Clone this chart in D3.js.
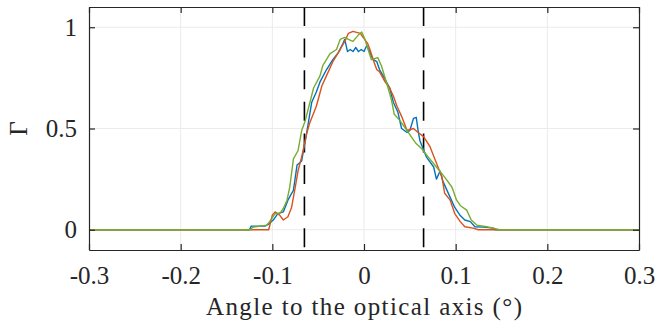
<!DOCTYPE html>
<html>
<head>
<meta charset="utf-8">
<script src="https://cdn.jsdelivr.net/npm/d3@7"></script>
<style>
  body { margin: 0; background: #fff; }
  svg text { font-family: "Liberation Serif", "DejaVu Serif", serif; fill: #262626; }
</style>
</head>
<body>
<div id="chart"></div>
<script>
// ---------------------------------------------------------------------------
// Data

const xTicks = [-0.3, -0.2, -0.1, 0, 0.1, 0.2, 0.3];
const yTicks = [0, 0.5, 1];
const markers = [-0.065, 0.065];

const blueX = [-0.3, -0.125, -0.123, -0.108, -0.104, -0.099, -0.094, -0.088, -0.083, -0.077, -0.073,
  -0.068, -0.064, -0.061, -0.057, -0.052, -0.048, -0.041, -0.034, -0.028, -0.023, -0.021, -0.018,
  -0.015, -0.012, -0.009, -0.006, -0.003, 0, 0.003, 0.007, 0.01, 0.014, 0.017, 0.021, 0.028, 0.032,
  0.037, 0.041, 0.047, 0.05, 0.054, 0.057, 0.059, 0.061, 0.068, 0.076, 0.079, 0.083, 0.086, 0.094,
  0.099, 0.105, 0.11, 0.116, 0.121, 0.13, 0.141, 0.143, 0.3];
const blueY = [0, 0, 0.018, 0.018, 0.028, 0.048, 0.08, 0.088, 0.146, 0.195, 0.32,
  0.34, 0.44, 0.52, 0.63, 0.68, 0.73, 0.79, 0.84, 0.875, 0.92, 0.94, 0.88,
  0.89, 0.88, 0.9, 0.88, 0.89, 0.88, 0.91, 0.87, 0.84, 0.83, 0.79, 0.76, 0.70, 0.63,
  0.58, 0.50, 0.48, 0.49, 0.55, 0.555, 0.49, 0.44, 0.36, 0.31, 0.25, 0.29, 0.24, 0.16,
  0.11, 0.07, 0.048, 0.04, 0.015, 0.013, 0.008, 0, 0];

const orangeX = [-0.3, -0.104, -0.1, -0.097, -0.092, -0.088, -0.083, -0.079, -0.075, -0.072, -0.068,
  -0.0625, -0.059, -0.052, -0.046, -0.041, -0.034, -0.026, -0.021, -0.017, -0.012, -0.004, -0.001,
  0.004, 0.0065, 0.01, 0.014, 0.017, 0.023, 0.028, 0.032, 0.036, 0.041, 0.047, 0.054, 0.059, 0.065,
  0.072, 0.079, 0.085, 0.088, 0.094, 0.099, 0.105, 0.11, 0.119, 0.125, 0.3];
const orangeY = [0, 0, 0.072, 0.088, 0.072, 0.048, 0.064, 0.11, 0.21, 0.29, 0.36,
  0.475, 0.53, 0.61, 0.71, 0.76, 0.83, 0.89, 0.93, 0.97, 0.98, 0.97, 0.95,
  0.92, 0.89, 0.84, 0.79, 0.78, 0.73, 0.70, 0.66, 0.61, 0.56, 0.49, 0.50, 0.48, 0.46,
  0.41, 0.33, 0.26, 0.18, 0.146, 0.08, 0.04, 0.015, 0.008, 0, 0];

const greenX = [-0.3, -0.123, -0.122, -0.106, -0.103, -0.097, -0.092, -0.088, -0.084, -0.081, -0.077,
  -0.072, -0.068, -0.064, -0.055, -0.048, -0.045, -0.037, -0.03, -0.026, -0.021, -0.017, -0.012,
  -0.0065, -0.0025, 0.001, 0.0045, 0.008, 0.015, 0.019, 0.025, 0.03, 0.033, 0.039, 0.047, 0.056,
  0.063, 0.07, 0.079, 0.088, 0.096, 0.101, 0.105, 0.112, 0.117, 0.123, 0.134, 0.141, 0.148, 0.3];
const greenY = [0, 0, 0.012, 0.023, 0.04, 0.08, 0.08, 0.105, 0.146, 0.21, 0.35,
  0.39, 0.49, 0.54, 0.70, 0.76, 0.81, 0.87, 0.89, 0.94, 0.95, 0.94, 0.93,
  0.96, 0.977, 0.94, 0.89, 0.84, 0.85, 0.81, 0.72, 0.64, 0.57, 0.54, 0.49, 0.43,
  0.40, 0.36, 0.31, 0.26, 0.21, 0.146, 0.12, 0.097, 0.048, 0.023, 0.015, 0.008, 0, 0];

const series = [
  { xs: blueX, ys: blueY, color: '#0072BD' },
  { xs: orangeX, ys: orangeY, color: '#D95319' },
  { xs: greenX, ys: greenY, color: '#77AC30' }
];

// ---------------------------------------------------------------------------
// Layout

const width = 657;
const height = 329;
const margin = { top: 7, right: 18, bottom: 79, left: 89 };
const innerW = width - margin.left - margin.right;
const innerH = height - margin.top - margin.bottom;
const tickLen = 6;

const svg = d3.select('#chart').append('svg')
  .attr('width', width)
  .attr('height', height);

const g = svg.append('g')
  .attr('transform', `translate(${margin.left},${margin.top})`);

const x = d3.scaleLinear().domain([-0.3, 0.3]).range([0, innerW]);
const y = d3.scaleLinear().domain([-0.1, 1.1]).range([innerH, 0]);

// grid
g.append('g').selectAll('line').data(xTicks.slice(1, -1)).enter().append('line')
  .attr('x1', d => x(d)).attr('x2', d => x(d))
  .attr('y1', 0).attr('y2', innerH)
  .attr('stroke', '#ebebeb').attr('stroke-width', 1);
g.append('g').selectAll('line').data(yTicks).enter().append('line')
  .attr('x1', 0).attr('x2', innerW)
  .attr('y1', d => y(d)).attr('y2', d => y(d))
  .attr('stroke', '#ebebeb').attr('stroke-width', 1);

// dashed markers
g.append('g').selectAll('line').data(markers).enter().append('line')
  .attr('x1', d => x(d)).attr('x2', d => x(d))
  .attr('y1', 0).attr('y2', innerH)
  .attr('stroke', '#000').attr('stroke-width', 1.6)
  .attr('stroke-dasharray', '19,12.6');

// curves
const line = d3.line()
  .x(d => x(d[0]))
  .y(d => y(d[1]));

series.forEach(s => {
  g.append('path')
    .datum(d3.zip(s.xs, s.ys))
    .attr('fill', 'none')
    .attr('stroke', s.color)
    .attr('stroke-width', 1.4)
    .attr('stroke-linejoin', 'round')
    .attr('d', line);
});

// axes (box, inward ticks)
const xAxis = g.append('g')
  .attr('transform', `translate(0,${innerH})`)
  .call(d3.axisBottom(x).tickValues(xTicks).tickSizeInner(-tickLen).tickSizeOuter(0)
    .tickFormat(d => String(+d.toFixed(1))));
const xAxisTop = g.append('g')
  .call(d3.axisTop(x).tickValues(xTicks).tickSizeInner(-tickLen).tickSizeOuter(0).tickFormat(''));
const yAxis = g.append('g')
  .call(d3.axisLeft(y).tickValues(yTicks).tickSizeInner(-tickLen).tickSizeOuter(0)
    .tickFormat(d => String(d)));
const yAxisRight = g.append('g')
  .attr('transform', `translate(${innerW},0)`)
  .call(d3.axisRight(y).tickValues(yTicks).tickSizeInner(-tickLen).tickSizeOuter(0).tickFormat(''));

[xAxis, xAxisTop, yAxis, yAxisRight].forEach(a => {
  a.select('.domain').attr('stroke', '#262626').attr('stroke-width', 1.2);
  a.selectAll('.tick line').attr('stroke', '#262626').attr('stroke-width', 1.2);
});

xAxis.selectAll('.tick text')
  .attr('y', 16)
  .attr('font-size', 25)
  .style('font-family', '"Liberation Serif", serif');
yAxis.selectAll('.tick text')
  .attr('x', -12)
  .attr('font-size', 25)
  .style('font-family', '"Liberation Serif", serif');

// axis labels
svg.append('text')
  .attr('x', margin.left + innerW / 2)
  .attr('y', 315)
  .attr('text-anchor', 'middle')
  .attr('font-size', 25)
  .attr('textLength', 316)
  .attr('lengthAdjust', 'spacing')
  .text('Angle to the optical axis (°)');

svg.append('text')
  .attr('transform', `translate(27,${margin.top + y(0.5)}) rotate(-90)`)
  .attr('text-anchor', 'middle')
  .attr('font-size', 25)
  .text('Γ');
</script>
</body>
</html>
